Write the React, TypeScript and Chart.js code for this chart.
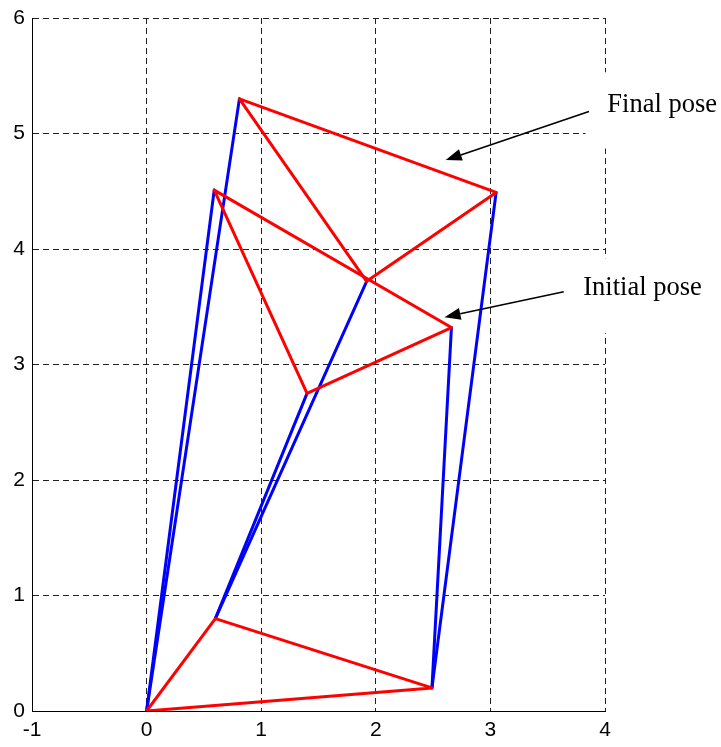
import React, { useEffect, useRef } from "react";
import { Chart, registerables } from "chart.js";

Chart.register(...registerables);

// Axis ranges / ticks
const xRange = [-1, 4];
const yRange = [0, 6];
const tickStep = 1;

// Base triangle (fixed), vertices O, A, B, closed
const baseX = [0, 0.6, 2.49, 0];
const baseY = [0, 0.8, 0.2, 0];

// Initial platform pose, closed
const initialX = [0.59, 1.4, 2.66, 0.59];
const initialY = [4.51, 2.75, 3.32, 4.51];

// Final platform pose, closed
const finalX = [0.81, 1.92, 3.05, 0.81];
const finalY = [5.3, 3.72, 4.49, 5.3];

// Annotation texts and arrow endpoints (data units)
const labelTexts = ["Final pose", "Initial pose"];
const labelX = [4.02, 3.81];
const labelY = [5.19, 3.6];
const arrowTailX = [3.86, 3.64];
const arrowTailY = [5.19, 3.63];
const arrowHeadX = [2.61, 2.6];
const arrowHeadY = [4.77, 3.41];
const boxLeftX = [3.83, 3.6];
const boxTopY = [5.53, 3.92];
const boxBottomY = [4.87, 3.27];

const pts = (xs: number[], ys: number[]) => xs.map((x, i) => ({ x, y: ys[i] }));

const legs = (platX: number[], platY: number[]) =>
  [0, 1, 2].map((i) => [
    { x: baseX[i], y: baseY[i] },
    { x: platX[i], y: platY[i] },
  ]);

const RED = "#ff0000";
const BLUE = "#0000ff";

function drawArrow(ctx: CanvasRenderingContext2D, x1: number, y1: number, x2: number, y2: number) {
  const ang = Math.atan2(y2 - y1, x2 - x1);
  const len = 16;
  const hw = 6;
  const bx = x2 - len * Math.cos(ang);
  const by = y2 - len * Math.sin(ang);
  ctx.beginPath();
  ctx.moveTo(x1, y1);
  ctx.lineTo(bx, by);
  ctx.stroke();
  ctx.beginPath();
  ctx.moveTo(x2, y2);
  ctx.lineTo(bx + hw * Math.sin(ang), by - hw * Math.cos(ang));
  ctx.lineTo(bx - hw * Math.sin(ang), by + hw * Math.cos(ang));
  ctx.closePath();
  ctx.fill();
}

const annotationPlugin = {
  id: "poseAnnotations",
  afterDraw(chart: any) {
    const ctx: CanvasRenderingContext2D = chart.ctx;
    const xs = chart.scales.x;
    const ys = chart.scales.y;
    ctx.save();
    for (let i = 0; i < labelTexts.length; i++) {
      const l = xs.getPixelForValue(boxLeftX[i]);
      const t = ys.getPixelForValue(boxTopY[i]);
      const b = ys.getPixelForValue(boxBottomY[i]);
      ctx.fillStyle = "#ffffff";
      ctx.fillRect(l, t, chart.width - l, b - t);
    }
    ctx.strokeStyle = "#000";
    ctx.fillStyle = "#000";
    ctx.lineWidth = 1.6;
    for (let i = 0; i < labelTexts.length; i++) {
      drawArrow(
        ctx,
        xs.getPixelForValue(arrowTailX[i]),
        ys.getPixelForValue(arrowTailY[i]),
        xs.getPixelForValue(arrowHeadX[i]),
        ys.getPixelForValue(arrowHeadY[i])
      );
    }
    ctx.font = '26.5px "Liberation Serif"';
    ctx.textBaseline = "alphabetic";
    ctx.textAlign = "left";
    for (let i = 0; i < labelTexts.length; i++) {
      ctx.fillText(labelTexts[i], xs.getPixelForValue(labelX[i]), ys.getPixelForValue(labelY[i]));
    }
    ctx.restore();
  },
};

export default function App() {
  const ref = useRef<HTMLCanvasElement | null>(null);

  useEffect(() => {
    if (!ref.current) return;
    const lineDs = (data: any[], color: string, order: number) => ({
      data,
      borderColor: color,
      backgroundColor: color,
      borderWidth: 3,
      showLine: true,
      fill: false,
      pointRadius: 0,
      pointHoverRadius: 0,
      borderJoinStyle: "round" as const,
      borderCapStyle: "round" as const,
      order,
    });
    const datasets: any[] = [
      lineDs(pts(baseX, baseY), RED, 0),
      lineDs(pts(initialX, initialY), RED, 0),
      lineDs(pts(finalX, finalY), RED, 0),
      ...legs(initialX, initialY).map((d) => lineDs(d, BLUE, 1)),
      ...legs(finalX, finalY).map((d) => lineDs(d, BLUE, 1)),
    ];
    const tickFont = { family: '"Liberation Sans", Arial, sans-serif', size: 21 };
    const chart = new Chart(ref.current, {
      type: "scatter",
      data: { datasets },
      options: {
        responsive: false,
        animation: false,
        events: [],
        layout: { padding: { left: 0, right: 116, top: 18, bottom: 0 } },
        plugins: { legend: { display: false }, tooltip: { enabled: false } },
        scales: {
          x: {
            type: "linear",
            min: xRange[0],
            max: xRange[1],
            ticks: { stepSize: tickStep, color: "#000", font: tickFont, padding: 7 },
            grid: { color: "#222", lineWidth: 1, drawTicks: false },
            border: { display: true, color: "#000", width: 1, dash: [6, 4] },
            afterFit: (s: any) => {
              s.height = 36;
              s.paddingLeft = 0;
              s.paddingRight = 0;
            },
          },
          y: {
            type: "linear",
            min: yRange[0],
            max: yRange[1],
            ticks: { stepSize: tickStep, color: "#000", font: tickFont, padding: 7 },
            grid: { color: "#222", lineWidth: 1, drawTicks: false },
            border: { display: true, color: "#000", width: 1, dash: [6, 4] },
            afterFit: (s: any) => {
              s.width = 32;
              s.paddingTop = 0;
              s.paddingBottom = 0;
            },
          },
        },
      },
      plugins: [annotationPlugin],
    });
    return () => chart.destroy();
  }, []);

  return (
    <div style={{ position: "absolute", left: 0, top: 0, width: 721, height: 747, overflow: "hidden" }}>
      <canvas ref={ref} width={721} height={747} style={{ display: "block" }} />
    </div>
  );
}
